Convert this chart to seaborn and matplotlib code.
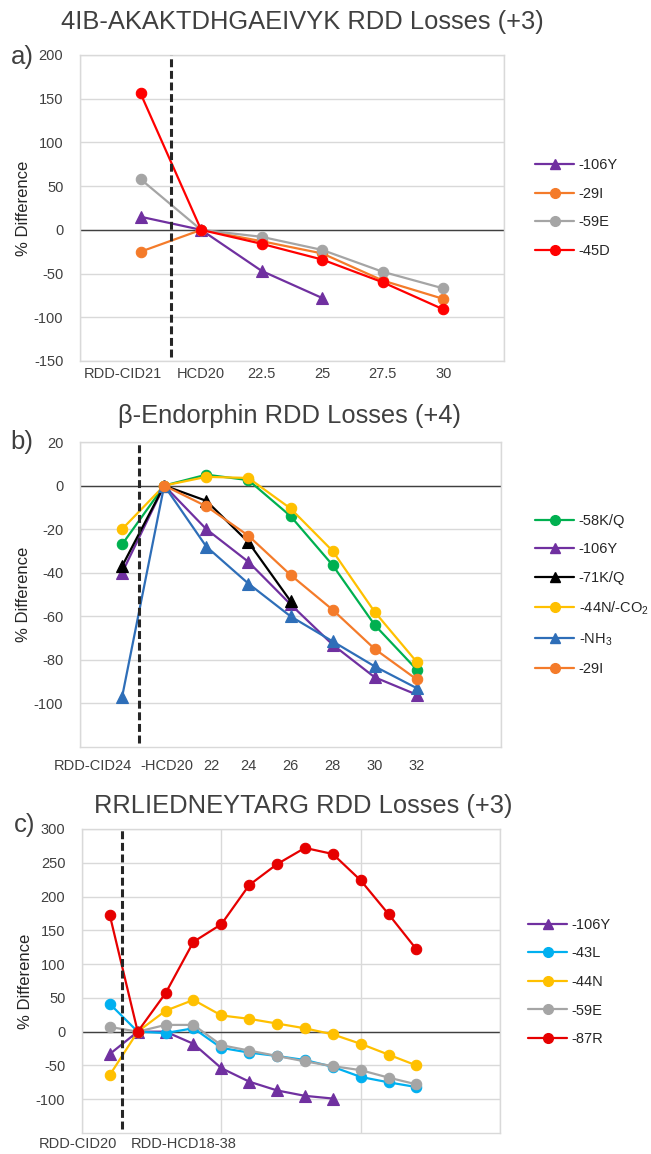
import numpy as np
import pandas as pd
import matplotlib
matplotlib.use("Agg")
import matplotlib.pyplot as plt
from matplotlib.lines import Line2D
from matplotlib.transforms import ScaledTranslation
import seaborn as sns

nan = np.nan

# ---------------- data ----------------
# Panel a
a_title = "4IB-AKAKTDHGAEIVYK RDD Losses (+3)"
a_x = [17.5, 20, 22.5, 25, 27.5, 30]
a_xlabels = ["RDD-CID21", "HCD20", "22.5", "25", "27.5", "30"]
a_names = ["-106Y", "-29I", "-59E", "-45D"]
a_106Y = [15, 0, -47, -78, nan, nan]
a_29I = [-25, 0, -13, -27, -58, -79]
a_59E = [58, 0, -8, -23, -48, -67]
a_45D = [156, 0, -16, -34, -60, -91]

# Panel b
b_title = "\u03b2-Endorphin RDD Losses (+4)"
b_x = [18, 20, 22, 24, 26, 28, 30, 32]
b_xlabels = ["RDD-CID24", "-HCD20", "22", "24", "26", "28", "30", "32"]
b_names = ["-58K/Q", "-106Y", "-71K/Q", "-44N/-CO$_2$", "-NH$_3$", "-29I"]
b_58KQ = [-27, 0, 5, 2.5, -14, -36.5, -64, -84.5]
b_106Y = [-40, 0, -20, -35, -54.5, -73, -88, -96]
b_71KQ = [-37, 0, -7, -26, -53, nan, nan, nan]
b_44N = [-20, 0, 4, 3.5, -10.5, -30, -58, -81]
b_NH3 = [-97, 0, -28, -45, -60, -71.5, -83, -93]
b_29I = [nan, 0, -9.5, -23, -41, -57, -75, -89]

# Panel c
c_title = "RRLIEDNEYTARG RDD Losses (+3)"
c_x = [16, 18, 20, 22, 24, 26, 28, 30, 32, 34, 36, 38]
c_xlabels = ["RDD-CID20", "RDD-HCD18-38"]
c_xlabel_pos = [16, 18]
c_names = ["-106Y", "-43L", "-44N", "-59E", "-87R"]
c_106Y = [-33, 0, 0, -18, -54, -74, -87, -95, -99, nan, nan, nan]
c_43L = [41, 0, -2, 5, -24, -31, -36, -42, -52, -67, -75, -82]
c_44N = [-64, 0, 31, 47, 24, 19, 12, 5, -4, -18, -34, -50]
c_59E = [7, 0, 10, 10, -20, -28, -36, -44, -51, -57, -68, -78]
c_87R = [172, 0, 57, 133, 159, 217, 248, 272, 263, 224, 174, 122]

# ---------------- style ----------------
sns.set_style("white")
plt.rcParams["font.family"] = ["Liberation Sans", "DejaVu Sans"]
plt.rcParams["mathtext.fontset"] = "custom"
plt.rcParams["mathtext.rm"] = "Liberation Sans"
plt.rcParams["mathtext.it"] = "Liberation Sans"
plt.rcParams["axes.unicode_minus"] = False

TXT = "#404040"
GRID = "#D9D9D9"

W, H = 651, 1154
fig = plt.figure(figsize=(W / 100, H / 100), dpi=100)


def rect(l, r, t, b):
    return [l / W, 1 - b / H, (r - l) / W, (b - t) / H]


panels = [
    dict(rect=rect(80, 504, 55, 361), title=a_title, tpos=(302, 22), lab="a)", lpos=(22, 57),
         x=a_x, series=[a_106Y, a_29I, a_59E, a_45D], names=a_names,
         colors=["#7030A0", "#F47B2A", "#A5A5A5", "#FF0000"],
         markers=["^", "o", "o", "o"],
         xlim=(15, 32.5), xgrid=np.arange(15, 32.6, 2.5), ylim=(-150, 200), yticks=np.arange(-150, 201, 50),
         xtick_pos=a_x, xtick_lab=a_xlabels, xtick_off=[-18, 0, 0, 0, 0, 0], xpad=4,
         vline=18.75, leg=(535, 208)),
    dict(rect=rect(80, 501, 442, 747), title=b_title, tpos=(289, 416), lab="b)", lpos=(22, 442),
         x=b_x, series=[b_58KQ, b_106Y, b_71KQ, b_44N, b_NH3, b_29I], names=b_names,
         colors=["#00B050", "#7030A0", "#000000", "#FFC000", "#2E6EB8", "#F47B2A"],
         markers=["o", "^", "^", "o", "^", "o"],
         xlim=(16, 36), xgrid=np.arange(16, 36.1, 4), ylim=(-120, 20), yticks=np.arange(-100, 21, 20),
         xtick_pos=b_x, xtick_lab=b_xlabels, xtick_off=[-29, 3, 5, 0, 0, 0, 0, 0], xpad=9,
         vline=18.8, leg=(535, 595)),
    dict(rect=rect(82, 500, 829, 1133), title=c_title, tpos=(303, 806), lab="c)", lpos=(25, 825),
         x=c_x, series=[c_106Y, c_43L, c_44N, c_59E, c_87R], names=c_names,
         colors=["#7030A0", "#00B0F0", "#FFC000", "#A5A5A5", "#E60000"],
         markers=["^", "o", "o", "o", "o"],
         xlim=(14, 44), xgrid=np.arange(14, 44.1, 10), ylim=(-150, 300), yticks=np.arange(-100, 301, 50),
         xtick_pos=c_xlabel_pos, xtick_lab=c_xlabels, xtick_off=[-32, 46], xpad=3,
         vline=16.85, leg=(528, 982)),
]

for p in panels:
    ax = fig.add_axes(p["rect"])
    for ys, name, col, mk in zip(p["series"], p["names"], p["colors"], p["markers"]):
        df = pd.DataFrame({"x": p["x"], "y": ys}).dropna()
        sns.lineplot(data=df, x="x", y="y", ax=ax, color=col, marker=mk,
                     markersize=7.5 if mk == "o" else 8, markeredgecolor=col, markeredgewidth=0.8,
                     linewidth=1.6, legend=False, sort=False, zorder=3)
    ax.axhline(0, color="#404040", lw=1.0, zorder=2)
    ax.axvline(p["vline"], ymin=0.012, ymax=1, color="#262626", lw=2.2,
               linestyle=(0, (2.6, 1.2)), zorder=4)
    ax.set_xlim(*p["xlim"])
    ax.set_ylim(*p["ylim"])
    ax.set_yticks(p["yticks"])
    ax.set_xticks(p["xgrid"], minor=True)
    ax.set_xticks(p["xtick_pos"])
    ax.set_xticklabels(p["xtick_lab"])
    ax.grid(axis="y", which="major", color=GRID, lw=1, zorder=0)
    ax.grid(axis="x", which="minor", color=GRID, lw=1, zorder=0)
    ax.grid(axis="x", which="major", visible=False)
    ax.tick_params(axis="both", which="both", length=0, labelsize=10.5, labelcolor=TXT)
    ax.tick_params(axis="x", pad=p["xpad"])
    ax.tick_params(axis="y", pad=12)
    for lbl, off in zip(ax.get_xticklabels(), p["xtick_off"]):
        lbl.set_transform(lbl.get_transform() + ScaledTranslation(off / 100, 0, fig.dpi_scale_trans))
    for s in ax.spines.values():
        s.set_color(GRID)
        s.set_linewidth(1)
    ax.set_xlabel("")
    ax.set_ylabel("% Difference", fontsize=12, color="#262626", labelpad=2)
    ax.set_axisbelow(True)

    # title and panel label
    fig.text(p["tpos"][0] / W, 1 - p["tpos"][1] / H, p["title"], ha="center", va="center",
             fontsize=18.4, color=TXT)
    fig.text(p["lpos"][0] / W, 1 - p["lpos"][1] / H, p["lab"], ha="center", va="center",
             fontsize=18.5, color=TXT)

    handles = [Line2D([], [], color=c, marker=m, markersize=7 if m == "o" else 7.5,
                      markeredgecolor=c, lw=1.6) for c, m in zip(p["colors"], p["markers"])]
    ax.legend(handles, p["names"], loc="center left",
              bbox_to_anchor=(p["leg"][0] / W, 1 - p["leg"][1] / H), bbox_transform=fig.transFigure,
              frameon=False, fontsize=10.5, handlelength=2.7, handletextpad=0.3,
              labelspacing=1.0, borderpad=0, borderaxespad=0, labelcolor="#262626")

fig.savefig("out.png", dpi=100)
